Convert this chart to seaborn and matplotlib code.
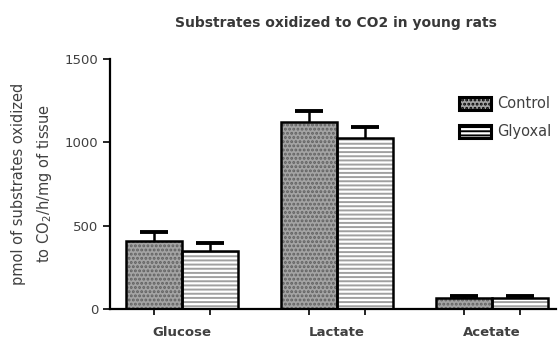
import numpy as np
import pandas as pd
import seaborn as sns
import matplotlib
matplotlib.use("Agg")
import matplotlib.pyplot as plt
from matplotlib.patches import Rectangle

substrates = ["Glucose", "Lactate", "Acetate"]
groups = ["Control", "Glyoxal"]
control_means = [408, 1122, 66]
glyoxal_means = [350, 1026, 66]
control_err = [54, 66, 12]
glyoxal_err = [48, 66, 12]
y_ticks = [0, 500, 1000, 1500]

df = pd.DataFrame({
    "substrate": substrates * 2,
    "group": [groups[0]] * 3 + [groups[1]] * 3,
    "value": control_means + glyoxal_means,
})

sns.set_theme(style="ticks")
plt.rcParams["font.family"] = ["DejaVu Sans"]
plt.rcParams["hatch.linewidth"] = 1.4

fig = plt.figure(figsize=(5.6, 3.42), dpi=100)
ax = fig.add_axes([0.196, 0.0965, 0.797, 0.731])

fills = {"Control": "#a4a4a4", "Glyoxal": "#ffffff"}
sns.barplot(data=df, x="substrate", y="value", hue="group", order=substrates,
            hue_order=groups, palette=fills, width=0.72, errorbar=None,
            saturation=1, ax=ax, legend=False)

hatches = {"Control": "....", "Glyoxal": "----"}
hatch_cols = {"Control": "#606060", "Glyoxal": "#a0a0a0"}
text_col = "#404040"
bars = [p for p in ax.patches if isinstance(p, Rectangle)]
n = len(substrates)
all_err = control_err + glyoxal_err
centers = []
for i, bar in enumerate(bars[:2 * n]):
    g = groups[i // n]
    bar.set_hatch(hatches[g])
    bar.set_edgecolor(hatch_cols[g])
    bar.set_linewidth(0)
    bar.set_zorder(2)
    x0, w, h = bar.get_x(), bar.get_width(), bar.get_height()
    centers.append(x0 + w / 2)
    # upper error bar only: hide the cap that sits on the bar top
    eb = ax.errorbar(x0 + w / 2, h, yerr=[[0], [all_err[i]]], fmt="none",
                     ecolor="black", elinewidth=1.8, capsize=10, capthick=2.8,
                     zorder=1)
    for cap in eb[1]:
        if np.allclose(cap.get_ydata(), h):
            cap.set_visible(False)
    ax.add_patch(Rectangle((x0, 0), w, h, fill=False, edgecolor="black",
                           linewidth=1.8, zorder=3))

ax.set_xlim(-0.465, 2.413)
ax.set_ylim(0, 1500)
ax.set_yticks(y_ticks)
ax.set_yticklabels([str(t) for t in y_ticks], fontsize=9.5, color=text_col)
ax.set_xticks(range(n))
ax.set_xticklabels(substrates, fontsize=9.5, fontweight="bold", color=text_col)
ax.tick_params(axis="x", which="major", length=0, pad=12)
ax.set_xticks(centers, minor=True)
ax.tick_params(axis="x", which="minor", length=4, width=1.2, color="black")
ax.tick_params(axis="y", length=5, width=1.2, color="black", pad=3)
ax.set_xlabel("")
ax.set_ylabel("pmol of substrates oxidized\nto CO$_2$/h/mg of tissue",
              fontsize=10.5, labelpad=8, linespacing=1.6, color=text_col)
for s in ["left", "bottom"]:
    ax.spines[s].set_linewidth(1.6)
    ax.spines[s].set_color("black")
sns.despine(ax=ax)

fig.text(0.6, 0.933, "Substrates oxidized to CO2 in young rats", ha="center",
         va="center", fontsize=10, fontweight="bold", color="#383838")

handles = [Rectangle((0, 0), 1, 1, facecolor=fills[g], hatch=hatches[g],
                     edgecolor="black", linewidth=2.2) for g in groups]
leg = ax.legend(handles, groups, loc="upper left", bbox_to_anchor=(0.77, 0.875),
                frameon=False, fontsize=10.5, handlelength=2.2, handleheight=1.0,
                labelspacing=0.9, handletextpad=0.4, borderaxespad=0)
for t in leg.get_texts():
    t.set_color(text_col)

fig.savefig("out.png", dpi=100)
